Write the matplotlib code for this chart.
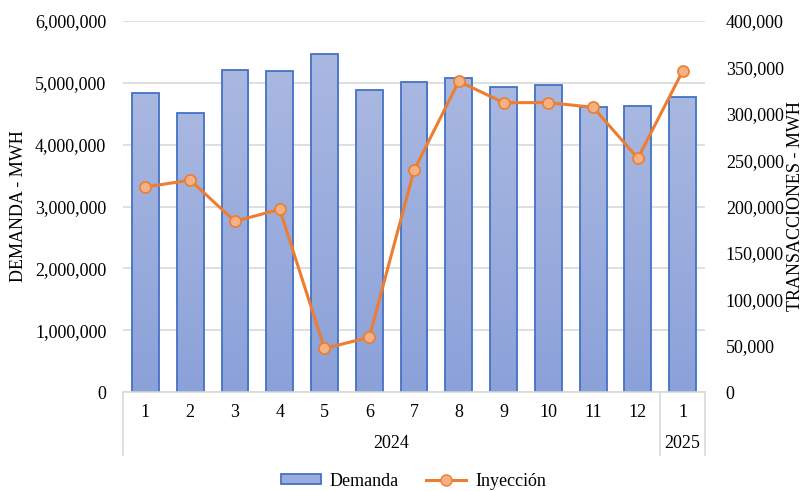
import matplotlib
matplotlib.use("Agg")
import matplotlib.pyplot as plt
import numpy as np
from matplotlib.colors import LinearSegmentedColormap
from matplotlib.lines import Line2D
from matplotlib.patches import Patch
import matplotlib.transforms as mtransforms

months = ["1", "2", "3", "4", "5", "6", "7", "8", "9", "10", "11", "12", "1"]
years = ["2024", "2025"]
year_counts = [12, 1]
demanda = [4840000, 4510000, 5210000, 5190000, 5470000, 4890000, 5020000,
           5080000, 4940000, 4970000, 4610000, 4630000, 4770000]
inyeccion = [221000, 228500, 184000, 197000, 47000, 59000, 239000,
             335000, 312000, 312000, 307000, 252000, 346000]

plt.rcParams['font.family'] = ['Liberation Serif', 'DejaVu Serif']
FS = 13

fig = plt.figure(figsize=(8.03, 4.91), dpi=100)
ax = fig.add_axes([0.1532, 0.2016, 0.7248, 0.7556])
ax2 = ax.twinx()

x = np.arange(len(months))
bars = ax.bar(x, demanda, width=0.6, color='#9aacdd', edgecolor='#4472c4',
              linewidth=1.3, zorder=2)

cmap = LinearSegmentedColormap.from_list('g', ['#8ba1d9', '#a9b8e1'])
grad = np.linspace(0, 1, 256).reshape(-1, 1)
for b in bars:
    bx, by = b.get_x(), b.get_y()
    w, h = b.get_width(), b.get_height()
    im = ax.imshow(grad, extent=[bx, bx + w, by, by + h], origin='lower',
                   cmap=cmap, aspect='auto', zorder=2.1)
    im.set_clip_path(b)
    b.set_facecolor('none')
    b.set_zorder(2.2)

ax.set_xlim(-0.5, len(months) - 0.5)
ax.set_ylim(0, 6000000)
ax.set_yticks(np.arange(0, 6000001, 1000000))
ax.set_yticklabels([f"{int(v):,}" for v in np.arange(0, 6000001, 1000000)], fontsize=FS)
ax.yaxis.grid(True, color='#d9d9d9', linewidth=1.2, zorder=0)
ax.set_axisbelow(True)
ax.set_xticks(x)
ax.set_xticklabels([])
ax.tick_params(axis='x', length=0)
ax.tick_params(axis='y', length=0, pad=12)
for s in ['top', 'left', 'right']:
    ax.spines[s].set_visible(False)
ax.spines['bottom'].set_color('#d9d9d9')
ax.spines['bottom'].set_linewidth(1.2)
ax.set_ylabel("DEMANDA - MWH", fontsize=FS, labelpad=6)

ax2.plot(x, inyeccion, color='#ed7d31', linewidth=2.2, marker='o',
         markersize=8, markerfacecolor='#f4b183', markeredgecolor='#ed7d31',
         markeredgewidth=1.2, zorder=5)
ax2.set_ylim(0, 400000)
ax2.set_yticks(np.arange(0, 400001, 50000))
ax2.set_yticklabels([f"{int(v):,}" for v in np.arange(0, 400001, 50000)], fontsize=FS)
ax2.tick_params(axis='y', length=0, pad=15)
for s in ['top', 'left', 'right', 'bottom']:
    ax2.spines[s].set_visible(False)
ax2.set_ylabel("TRANSACCIONES - MWH", fontsize=FS, labelpad=2)

# multi-level category axis
trans = mtransforms.blended_transform_factory(ax.transData, ax.transAxes)
for i, m in enumerate(months):
    ax.text(i, -0.055, m, transform=trans, ha='center', va='center', fontsize=FS)
bounds = [-0.5]
pos = -0.5
for c in year_counts:
    pos += c
    bounds.append(pos)
for bx in bounds:
    ax.add_line(Line2D([bx, bx], [0, -0.17], transform=trans, color='#d9d9d9',
                       linewidth=1.2, clip_on=False))
for i, yname in enumerate(years):
    mid = (bounds[i] + bounds[i + 1]) / 2
    ax.text(mid, -0.138, yname, transform=trans, ha='center', va='center', fontsize=FS)

handles = [Patch(facecolor='#9aacdd', edgecolor='#4472c4', linewidth=1.3),
           Line2D([0], [0], color='#ed7d31', linewidth=2.2, marker='o', markersize=8,
                  markerfacecolor='#f4b183', markeredgecolor='#ed7d31')]
fig.legend(handles, ["Demanda", "Inyección"], loc='center', bbox_to_anchor=(0.515, 0.02),
           ncol=2, frameon=False, fontsize=FS, handlelength=2.2, handleheight=0.5,
           columnspacing=1.5, handletextpad=0.5)

fig.savefig("out.png", dpi=100)
